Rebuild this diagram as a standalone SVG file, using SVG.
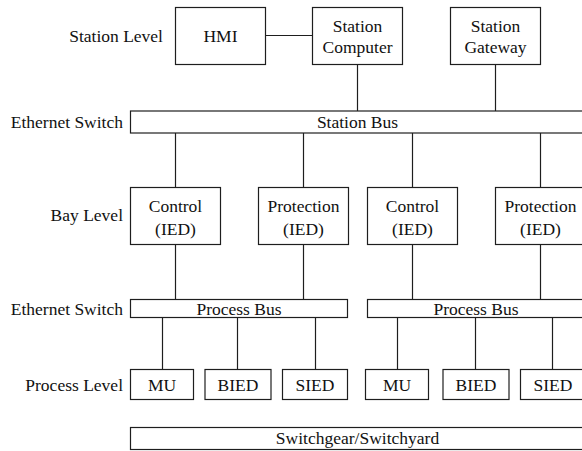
<svg xmlns="http://www.w3.org/2000/svg" width="582" height="451" viewBox="0 0 582 451">
  <style>
    .box { fill: #ffffff; stroke: #1e1e1e; stroke-width: 1.2; }
    .wire { stroke: #1e1e1e; stroke-width: 1.2; fill: none; }
  </style>
  <rect width="582" height="451" fill="#ffffff"/>

  <!-- level labels -->
  <g id="labels" font-family="Liberation Serif, serif" font-size="17.5" fill="#111111" text-anchor="end">
    <text x="163" y="42">Station Level</text>
    <text x="123" y="128">Ethernet Switch</text>
    <text x="123" y="221">Bay Level</text>
    <text x="123" y="315">Ethernet Switch</text>
    <text x="123" y="391">Process Level</text>
  </g>

  <!-- connectors -->
  <g id="connectors">
    <line class="wire" x1="266" y1="35.5" x2="312" y2="35.5"/>
    <line class="wire" x1="357.5" y1="64" x2="357.5" y2="111"/>
    <line class="wire" x1="495.5" y1="64" x2="495.5" y2="111"/>
    <line class="wire" x1="175.5" y1="133" x2="175.5" y2="187"/>
    <line class="wire" x1="303.5" y1="133" x2="303.5" y2="187"/>
    <line class="wire" x1="412.5" y1="133" x2="412.5" y2="187"/>
    <line class="wire" x1="540.5" y1="133" x2="540.5" y2="187"/>
    <line class="wire" x1="175.5" y1="244" x2="175.5" y2="299"/>
    <line class="wire" x1="303.5" y1="244" x2="303.5" y2="299"/>
    <line class="wire" x1="412.5" y1="244" x2="412.5" y2="299"/>
    <line class="wire" x1="540.5" y1="244" x2="540.5" y2="299"/>
    <line class="wire" x1="162.5" y1="317" x2="162.5" y2="369"/>
    <line class="wire" x1="237.5" y1="317" x2="237.5" y2="369"/>
    <line class="wire" x1="315.5" y1="317" x2="315.5" y2="369"/>
    <line class="wire" x1="397.5" y1="317" x2="397.5" y2="369"/>
    <line class="wire" x1="475.5" y1="317" x2="475.5" y2="369"/>
    <line class="wire" x1="552.5" y1="317" x2="552.5" y2="369"/>
  </g>

  <g id="nodes" font-family="Liberation Serif, serif" font-size="17.5" fill="#111111" text-anchor="middle">
  <!-- station level -->
  <g id="hmi">
    <rect class="box" x="175.5" y="7.5" width="90" height="57"/>
    <text x="220.5" y="42">HMI</text>
  </g>
  <g id="station-computer">
    <rect class="box" x="312.5" y="7.5" width="90" height="57"/>
    <text x="357.5" y="32">Station</text>
    <text x="357.5" y="53">Computer</text>
  </g>
  <g id="station-gateway">
    <rect class="box" x="450.5" y="7.5" width="90" height="57"/>
    <text x="495.5" y="32">Station</text>
    <text x="495.5" y="53">Gateway</text>
  </g>

  <g id="station-bus">
    <rect class="box" x="130.5" y="111" width="455" height="22"/>
    <text x="357.5" y="128">Station Bus</text>
  </g>

  <!-- bay level -->
  <g id="control-1">
    <rect class="box" x="130.5" y="187.5" width="90" height="57"/>
    <text x="175.5" y="212">Control</text>
    <text x="175.5" y="235">(IED)</text>
  </g>
  <g id="protection-1">
    <rect class="box" x="258.5" y="187.5" width="90" height="57"/>
    <text x="303.5" y="212">Protection</text>
    <text x="303.5" y="235">(IED)</text>
  </g>
  <g id="control-2">
    <rect class="box" x="367.5" y="187.5" width="90" height="57"/>
    <text x="412.5" y="212">Control</text>
    <text x="412.5" y="235">(IED)</text>
  </g>
  <g id="protection-2">
    <rect class="box" x="495.5" y="187.5" width="90" height="57"/>
    <text x="540.5" y="212">Protection</text>
    <text x="540.5" y="235">(IED)</text>
  </g>

  <!-- process buses -->
  <g id="process-bus-1">
    <rect class="box" x="130.5" y="299.5" width="217" height="18"/>
    <text x="239" y="315">Process Bus</text>
  </g>
  <g id="process-bus-2">
    <rect class="box" x="367.5" y="299.5" width="217" height="18"/>
    <text x="476" y="315">Process Bus</text>
  </g>

  <!-- process level -->
  <g id="mu-1">
    <rect class="box" x="130.5" y="369.5" width="63" height="30"/>
    <text x="162" y="391">MU</text>
  </g>
  <g id="bied-1">
    <rect class="box" x="205" y="369.5" width="66" height="30"/>
    <text x="238" y="391">BIED</text>
  </g>
  <g id="sied-1">
    <rect class="box" x="282.5" y="369.5" width="65" height="30"/>
    <text x="315" y="391">SIED</text>
  </g>
  <g id="mu-2">
    <rect class="box" x="365.5" y="369.5" width="63" height="30"/>
    <text x="397" y="391">MU</text>
  </g>
  <g id="bied-2">
    <rect class="box" x="443" y="369.5" width="66" height="30"/>
    <text x="476" y="391">BIED</text>
  </g>
  <g id="sied-2">
    <rect class="box" x="520.5" y="369.5" width="65" height="30"/>
    <text x="553" y="391">SIED</text>
  </g>

  <g id="switchgear">
    <rect class="box" x="130.5" y="427.5" width="455" height="22"/>
    <text x="357.5" y="444">Switchgear/Switchyard</text>
  </g>
  </g>
</svg>
